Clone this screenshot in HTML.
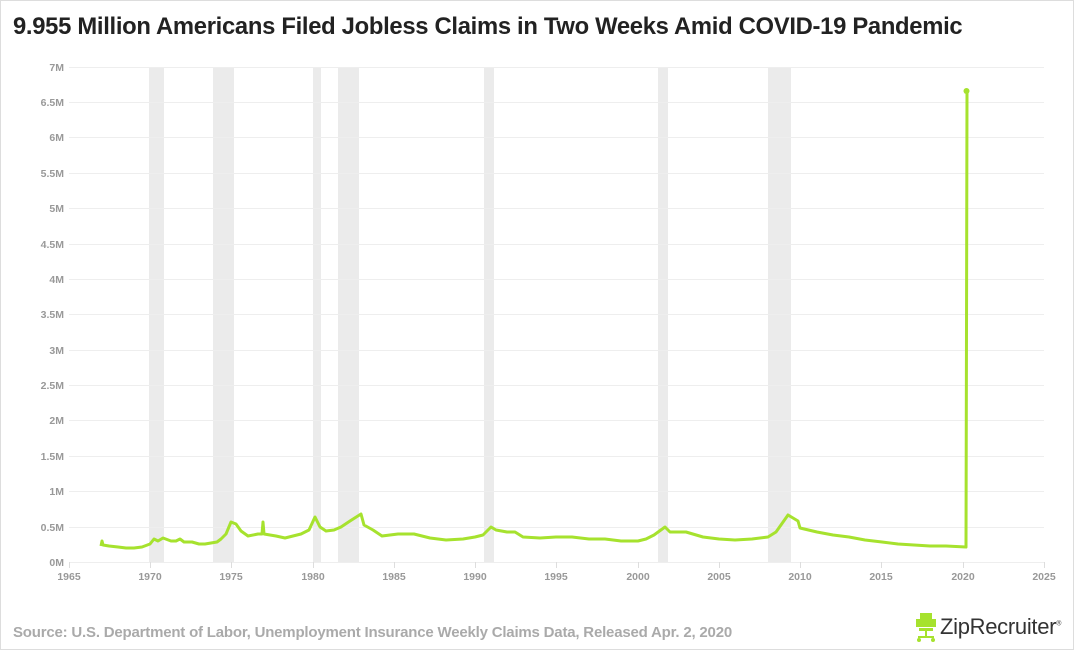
<!DOCTYPE html>
<html><head><style>
html,body{margin:0;padding:0;background:#fff;}
body{width:1074px;height:650px;overflow:hidden;position:relative;font-family:"Liberation Sans",sans-serif;}
.frame{position:absolute;left:0;top:0;width:1072px;height:648px;border:1px solid #ddd;}
.title{position:absolute;left:13px;top:13px;font-size:23.8px;font-weight:bold;color:#222;letter-spacing:-0.3px;}
.src{position:absolute;left:13px;top:624px;font-size:15px;font-weight:bold;color:#aaa;letter-spacing:-0.2px;}
svg text{font-family:"Liberation Sans",sans-serif;font-weight:bold;font-size:10.5px;fill:#999;}
</style></head><body>
<div class="frame"></div>
<div class="title">9.955 Million Americans Filed Jobless Claims in Two Weeks Amid COVID-19 Pandemic</div>
<svg width="1074" height="650" style="position:absolute;left:0;top:0">
<g fill="#ebebeb">
<rect x="149" y="67" width="15" height="495"/>
<rect x="213" y="67" width="21" height="495"/>
<rect x="313" y="67" width="8" height="495"/>
<rect x="338" y="67" width="21" height="495"/>
<rect x="484" y="67" width="10" height="495"/>
<rect x="658" y="67" width="10" height="495"/>
<rect x="768" y="67" width="23" height="495"/>
</g>
<g stroke="#eee" stroke-width="1">
<line x1="69" x2="1044" y1="67.5" y2="67.5"/><line x1="69" x2="1044" y1="102.5" y2="102.5"/>
<line x1="69" x2="1044" y1="137.5" y2="137.5"/><line x1="69" x2="1044" y1="173.5" y2="173.5"/>
<line x1="69" x2="1044" y1="208.5" y2="208.5"/><line x1="69" x2="1044" y1="244.5" y2="244.5"/>
<line x1="69" x2="1044" y1="279.5" y2="279.5"/><line x1="69" x2="1044" y1="314.5" y2="314.5"/>
<line x1="69" x2="1044" y1="350.5" y2="350.5"/><line x1="69" x2="1044" y1="385.5" y2="385.5"/>
<line x1="69" x2="1044" y1="420.5" y2="420.5"/><line x1="69" x2="1044" y1="456.5" y2="456.5"/>
<line x1="69" x2="1044" y1="491.5" y2="491.5"/><line x1="69" x2="1044" y1="527.5" y2="527.5"/>
<line x1="69" x2="1044" y1="562.5" y2="562.5"/>
</g>
<g stroke="#ddd"><line x1="69.5" x2="69.5" y1="562" y2="568"/><line x1="150.5" x2="150.5" y1="562" y2="568"/><line x1="231.5" x2="231.5" y1="562" y2="568"/><line x1="313.5" x2="313.5" y1="562" y2="568"/><line x1="394.5" x2="394.5" y1="562" y2="568"/><line x1="475.5" x2="475.5" y1="562" y2="568"/><line x1="556.5" x2="556.5" y1="562" y2="568"/><line x1="638.5" x2="638.5" y1="562" y2="568"/><line x1="719.5" x2="719.5" y1="562" y2="568"/><line x1="800.5" x2="800.5" y1="562" y2="568"/><line x1="881.5" x2="881.5" y1="562" y2="568"/><line x1="963.5" x2="963.5" y1="562" y2="568"/><line x1="1044.5" x2="1044.5" y1="562" y2="568"/></g>
<g text-anchor="end">
<text x="64" y="71">7M</text><text x="64" y="106">6.5M</text><text x="64" y="141">6M</text><text x="64" y="177">5.5M</text><text x="64" y="212">5M</text><text x="64" y="248">4.5M</text><text x="64" y="283">4M</text><text x="64" y="318">3.5M</text><text x="64" y="354">3M</text><text x="64" y="389">2.5M</text><text x="64" y="424">2M</text><text x="64" y="460">1.5M</text><text x="64" y="495">1M</text><text x="64" y="531">0.5M</text><text x="64" y="566">0M</text>
</g>
<g text-anchor="middle">
<text x="69" y="580">1965</text><text x="150" y="580">1970</text><text x="231" y="580">1975</text><text x="313" y="580">1980</text><text x="394" y="580">1985</text><text x="475" y="580">1990</text><text x="556" y="580">1995</text><text x="638" y="580">2000</text><text x="719" y="580">2005</text><text x="800" y="580">2010</text><text x="881" y="580">2015</text><text x="963" y="580">2020</text><text x="1044" y="580">2025</text>
</g>
<polyline fill="none" stroke="#a6e22e" stroke-width="3" stroke-linejoin="round" points="101,546 102,541 103,545 109,546 118,547 126,548 134,548 142,547 150,544 154,539 158,541 163,538 171,541 176,541 180,539 184,542 192,542 199,544 205,544 211,543 217,542 221,539 226,534 231,522 236,524 241,531 248,536 258,534 262,534 263,522 264,534 276,536 285,538 293,536 301,534 309,530 315,517 320,527 326,531 334,530 341,527 350,521 361,514 364,525 373,530 382,536 398,534 414,534 430,538 446,540 463,539 475,537 483,535 491,527 496,530 507,532 515,532 523,537 540,538 556,537 572,537 589,539 605,539 621,541 638,541 646,539 654,535 665,527 670,532 686,532 703,537 719,539 735,540 752,539 768,537 776,532 788,515 798,521 800,528 817,532 833,535 849,537 865,540 882,542 898,544 914,545 930,546 946,546 966,547 966.5,328 967,92"/>
<circle cx="966.5" cy="91" r="3" fill="#a6e22e"/>
</svg>
<div class="src">Source: U.S. Department of Labor, Unemployment Insurance Weekly Claims Data, Released Apr. 2, 2020</div>
<div style="position:absolute;left:915px;top:613px;">
<svg width="22" height="30"><rect x="5" y="0" width="12" height="14" fill="#a6e22e"/><rect x="1" y="6" width="4" height="8" fill="#a6e22e"/><rect x="17" y="6" width="4" height="8" fill="#a6e22e"/><rect x="4" y="15" width="14" height="3" fill="#a6e22e"/><rect x="10" y="18" width="2" height="6" fill="#a6e22e"/><rect x="3" y="23" width="16" height="2" fill="#a6e22e"/><circle cx="4" cy="27" r="2" fill="#a6e22e"/><circle cx="18" cy="27" r="2" fill="#a6e22e"/></svg>
</div>
<div style="position:absolute;left:940px;top:614px;font-size:22px;color:#333;font-family:'Liberation Sans',sans-serif;letter-spacing:-0.3px;">ZipRecruiter<sup style="font-size:7px">®</sup></div>
</body></html>
